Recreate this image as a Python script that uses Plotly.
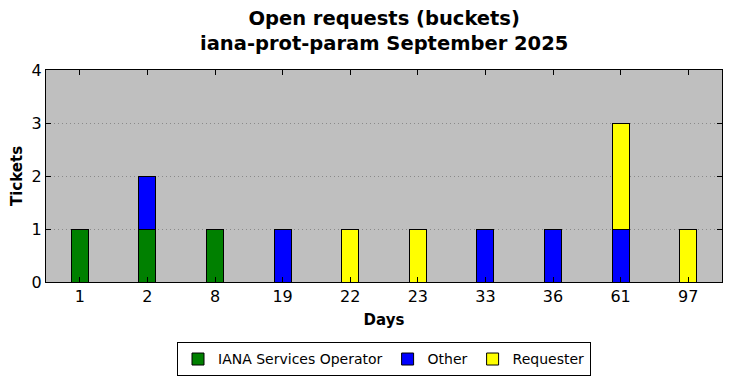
import plotly.graph_objects as go

categories = ["1", "2", "8", "19", "22", "23", "33", "36", "61", "97"]
iana = [1, 1, 1, 0, 0, 0, 0, 0, 0, 0]
other = [0, 1, 0, 1, 0, 0, 1, 1, 1, 0]
requester = [0, 0, 0, 0, 1, 1, 0, 0, 2, 1]

series = [
    ("IANA Services Operator", iana, "#008000"),
    ("Other", other, "#0000ff"),
    ("Requester", requester, "#ffff00"),
]

fig = go.Figure()
for name, vals, color in series:
    fig.add_trace(go.Bar(
        x=categories, y=[v if v else None for v in vals], name=name,
        marker=dict(color=color, line=dict(color="black", width=1)),
        width=0.25,
    ))

font = "DejaVu Sans"
fig.add_annotation(
    text="<b>Open requests (buckets)<br>iana-prot-param September 2025</b>",
    x=0.5, xref="paper", xanchor="center",
    y=1, yref="paper", yanchor="bottom", yshift=13,
    showarrow=False, font=dict(size=19.5, family=font), align="center",
)
fig.update_layout(
    barmode="stack",
    width=732, height=378,
    margin=dict(l=46, r=10, t=70, b=96, autoexpand=False),
    paper_bgcolor="white",
    plot_bgcolor="#bfbfbf",
    font=dict(family=font, color="black"),
    legend=dict(
        orientation="h", x=0.5, xanchor="center", y=-0.285, yanchor="top",
        bordercolor="black", borderwidth=1, font=dict(size=14, family=font),
        traceorder="normal", itemwidth=30,
    ),
    xaxis=dict(
        type="category", range=[-0.5, 9.5], automargin=False,
        showline=True, linecolor="black", linewidth=1, mirror="ticks",
        ticks="inside", ticklen=5, tickcolor="black",
        tickfont=dict(size=16), showgrid=False,
        title=dict(text="<b>Days</b>", font=dict(size=15), standoff=9),
    ),
    yaxis=dict(
        range=[0, 4], dtick=1, automargin=False,
        showline=True, linecolor="black", linewidth=1, mirror="ticks",
        ticks="inside", ticklen=5, tickcolor="black",
        tickfont=dict(size=16),
        showgrid=True, gridcolor="#8a8a8a", griddash="1px,3px", gridwidth=1,
        zeroline=False,
        title=dict(text="<b>Tickets</b>", font=dict(size=15), standoff=5),
    ),
)

fig.write_html(
    "out.html",
    config={"displayModeBar": False},
    post_script="document.body.style.margin='0';",
)
